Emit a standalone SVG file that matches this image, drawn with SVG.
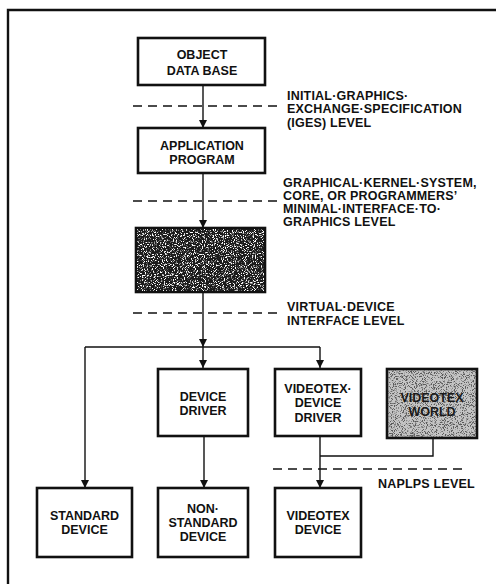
<svg xmlns="http://www.w3.org/2000/svg" width="496" height="584" viewBox="0 0 496 584">
<style>
.box{fill:#fff;stroke:#111;stroke-width:2.6}
.lbl{font-family:"Liberation Sans",Arial,sans-serif;font-weight:bold;font-size:12.5px;fill:#111;text-anchor:middle}
.lvl{font-family:"Liberation Sans",Arial,sans-serif;font-weight:bold;font-size:12.5px;fill:#111;letter-spacing:0.2px}
.con{fill:none;stroke:#111;stroke-width:1.4}
.dash{fill:none;stroke:#111;stroke-width:1.4;stroke-dasharray:9 6}
.frame{fill:none;stroke:#111;stroke-width:2.4}
</style>
<defs>
<marker id="arr" markerUnits="userSpaceOnUse" markerWidth="8" markerHeight="9" refX="8" refY="4" orient="auto">
<path d="M0,0 L8,4 L0,8 z" fill="#111"/>
</marker>
<filter id="spkW" x="0" y="0" width="1" height="1">
<feTurbulence type="fractalNoise" baseFrequency="0.9" numOctaves="2" seed="4" result="n"/>
<feColorMatrix in="n" type="matrix" values="0 0 0 0 1  0 0 0 0 1  0 0 0 0 1  7 0 0 0 -3.7"/>
<feComposite operator="in" in2="SourceGraphic"/>
</filter>
<filter id="spkD" x="0" y="0" width="1" height="1">
<feTurbulence type="fractalNoise" baseFrequency="1.1" numOctaves="2" seed="9" result="n"/>
<feColorMatrix in="n" type="matrix" values="0 0 0 0 0.1  0 0 0 0 0.1  0 0 0 0 0.1  7 0 0 0 -3.6"/>
<feComposite operator="in" in2="SourceGraphic"/>
</filter>
</defs>
<rect width="496" height="584" fill="#fff"/>
<path class="frame" d="M8,584 L8,10 L496,10"/>

<g id="connectors">
<path class="con" d="M203,85 L203,128" marker-end="url(#arr)"/>
<path class="con" d="M203,173 L203,228" marker-end="url(#arr)"/>
<path class="con" d="M203,292 L203,347" marker-end="url(#arr)"/>
<path class="con" d="M85,347 L320,347"/>
<path class="con" d="M203,347 L203,368" marker-end="url(#arr)"/>
<path class="con" d="M85,347 L85,488" marker-end="url(#arr)"/>
<path class="con" d="M320,347 L320,368" marker-end="url(#arr)"/>
<path class="con" d="M204,436 L204,488" marker-end="url(#arr)"/>
<path class="con" d="M320,436 L320,488" marker-end="url(#arr)"/>
<path class="con" d="M433,438 L433,456 L320,456"/>
</g>

<g id="levels">
<path class="dash" d="M133,106 L278,106"/>
<path class="dash" d="M133,201 L278,201"/>
<path class="dash" d="M133,313 L278,313"/>
<path class="dash" d="M273,469 L467,469"/>
<text class="lvl" x="287" y="99.5">INITIAL·GRAPHICS·</text>
<text class="lvl" x="287" y="112.5">EXCHANGE·SPECIFICATION</text>
<text class="lvl" x="287" y="126.5">(IGES) LEVEL</text>
<text class="lvl" x="283" y="186.5">GRAPHICAL·KERNEL·SYSTEM,</text>
<text class="lvl" x="283" y="199.5">CORE, OR PROGRAMMERS’</text>
<text class="lvl" x="283" y="212.5">MINIMAL·INTERFACE·TO·</text>
<text class="lvl" x="283" y="225.5">GRAPHICS LEVEL</text>
<text class="lvl" x="287" y="310.5">VIRTUAL·DEVICE</text>
<text class="lvl" x="287" y="324.5">INTERFACE LEVEL</text>
<text class="lvl" x="378" y="487.5">NAPLPS LEVEL</text>
</g>

<g id="object-data-base">
<rect class="box" x="138" y="38" width="127" height="47"/>
<text class="lbl" x="202" y="58.5">OBJECT</text>
<text class="lbl" x="202" y="74.5">DATA BASE</text>
</g>

<g id="application-program">
<rect class="box" x="138" y="128" width="127" height="45"/>
<text class="lbl" x="202" y="149.5">APPLICATION</text>
<text class="lbl" x="202" y="163.5">PROGRAM</text>
</g>

<g id="graphics-system">
<rect x="136" y="228" width="129" height="64" fill="#1b1b1b" stroke="#111" stroke-width="2.6"/>
<rect x="137" y="229" width="127" height="62" fill="#000" filter="url(#spkW)"/>
</g>

<g id="device-driver">
<rect class="box" x="158" y="369" width="90" height="67"/>
<text class="lbl" x="203" y="400.5">DEVICE</text>
<text class="lbl" x="203" y="414.5">DRIVER</text>
</g>

<g id="videotex-device-driver">
<rect class="box" x="275" y="369" width="86" height="67"/>
<text class="lbl" x="318" y="392.5">VIDEOTEX·</text>
<text class="lbl" x="318" y="407">DEVICE</text>
<text class="lbl" x="318" y="421.5">DRIVER</text>
</g>

<g id="videotex-world">
<rect x="387" y="369" width="90" height="69" fill="#c4c4c4" stroke="#111" stroke-width="2.6"/>
<rect x="388" y="370" width="88" height="67" fill="#000" filter="url(#spkD)"/>
<text class="lbl" x="432" y="401.5" style="fill:#1a1a1a">VIDEOTEX</text>
<text class="lbl" x="432" y="415.5" style="fill:#1a1a1a">WORLD</text>
</g>

<g id="standard-device">
<rect class="box" x="37" y="488" width="95" height="69"/>
<text class="lbl" x="84.5" y="519.5">STANDARD</text>
<text class="lbl" x="84.5" y="533.5">DEVICE</text>
</g>

<g id="non-standard-device">
<rect class="box" x="158" y="488" width="90" height="69"/>
<text class="lbl" x="203" y="512.5">NON·</text>
<text class="lbl" x="203" y="527">STANDARD</text>
<text class="lbl" x="203" y="540.5">DEVICE</text>
</g>

<g id="videotex-device">
<rect class="box" x="275" y="488" width="86" height="69"/>
<text class="lbl" x="318" y="519.5">VIDEOTEX</text>
<text class="lbl" x="318" y="533.5">DEVICE</text>
</g>
</svg>
